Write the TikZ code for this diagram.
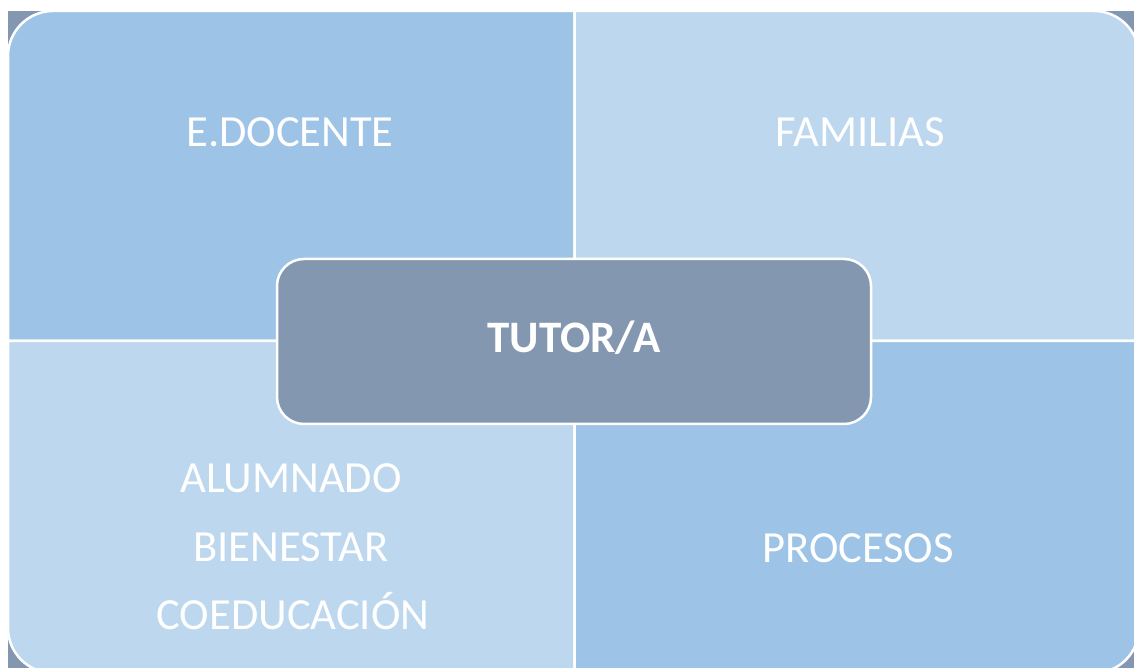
\documentclass[tikz,border=0pt]{standalone}
\usepackage{fontspec}
\setmainfont{Carlito}
\definecolor{slate}{HTML}{8497B0}
\definecolor{blueA}{HTML}{9DC3E6}
\definecolor{blueB}{HTML}{BDD7EE}
\begin{document}
\begin{tikzpicture}[x=1pt,y=1pt,
  quad/.style={draw=white,line width=2.5pt,line join=round},
  lab/.style={text=white,font=\fontsize{44.5}{52}\selectfont,anchor=base,inner sep=0pt},
  hub/.style={draw=white,line width=2.5pt,fill=slate,rounded corners=27pt,
    minimum width=594pt,minimum height=165pt,inner sep=0pt}]
\useasboundingbox (0,0) rectangle (1134,668);
\clip (0,0) rectangle (1134,668);
\fill[slate] (8,-20) rectangle (1150,657);
% quadrants
\path[quad,fill=blueA] (8,327) -- (8,612) arc[start angle=180,end angle=90,radius=45] -- (574.5,657) -- (574.5,327) -- cycle;
\path[quad,fill=blueB] (574.5,327) -- (574.5,657) -- (1094,657) arc[start angle=90,end angle=0,radius=45] -- (1139,327) -- cycle;
\path[quad,fill=blueB] (574.5,327) -- (8,327) -- (8,40) arc[start angle=180,end angle=270,radius=45] -- (574.5,-5) -- cycle;
\path[quad,fill=blueA] (574.5,327) -- (1139,327) -- (1139,40) arc[start angle=0,end angle=-90,radius=45] -- (574.5,-5) -- cycle;
% labels
\node[lab] (edoc) at (290,521) {E.DOCENTE};
\node[lab] (fam) at (860,521) {FAMILIAS};
\node[lab] (alu) at (291,175) {ALUMNADO};
\node[lab] (bien) at (291,106) {BIENESTAR};
\node[lab] (coed) at (293,38) {COEDUCACIÓN};
\node[lab] (proc) at (858,105) {PROCESOS};
% hub
\node[hub] (hubbox) at (574,326.5) {};
\node[text=white,font=\fontsize{45}{52}\selectfont\bfseries,anchor=base,inner sep=0pt] (tutor) at (574,315) {TUTOR/A};
\end{tikzpicture}
\end{document}
